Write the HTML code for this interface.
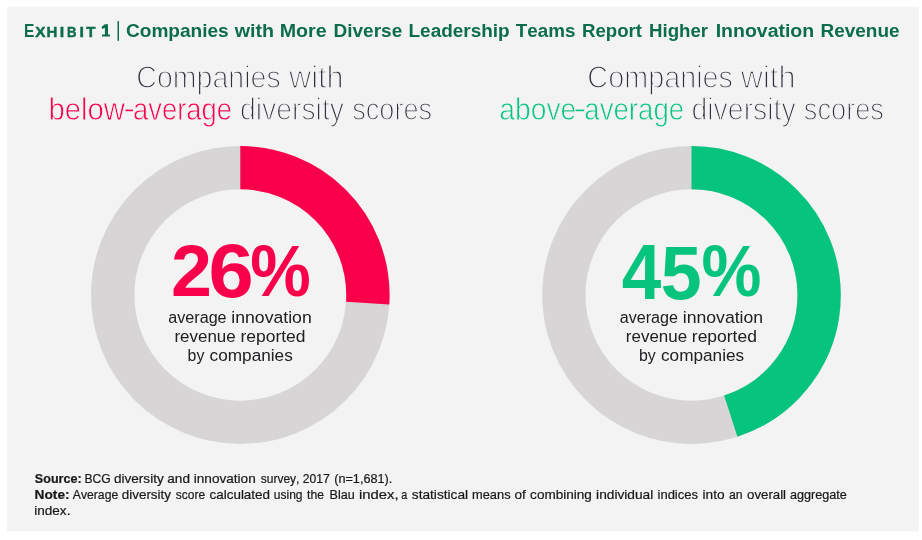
<!DOCTYPE html>
<html>
<head>
<meta charset="utf-8">
<title>Exhibit 1</title>
<style>
html,body{margin:0;padding:0;background:#ffffff;}
body{width:922px;height:540px;overflow:hidden;font-family:"Liberation Sans",sans-serif;}
svg{display:block;will-change:transform;}
text{font-family:"Liberation Sans",sans-serif;font-kerning:none;}
</style>
</head>
<body>
<svg width="922" height="540" viewBox="0 0 922 540">
<rect x="0" y="0" width="922" height="540" fill="#ffffff"/>
<rect x="7" y="6.8" width="911.7" height="524.7" fill="#f3f3f3"/>
<!-- title -->
<text transform="translate(23.96,36.50) scale(0.8615,1.0000)" font-size="18" font-weight="bold" fill="#0b6d4a">E</text>
<text transform="translate(35.36,36.50) scale(1.0844,1.0000)" font-size="14.2" font-weight="bold" fill="#0b6d4a" stroke="#0b6d4a" stroke-width="0.45">X</text>
<text transform="translate(46.40,36.50) scale(1.0541,1.0000)" font-size="14.2" font-weight="bold" fill="#0b6d4a" stroke="#0b6d4a" stroke-width="0.45">H</text>
<text transform="translate(59.83,36.50) scale(1.1245,1.0000)" font-size="14.2" font-weight="bold" fill="#0b6d4a" stroke="#0b6d4a" stroke-width="0.45">I</text>
<text transform="translate(67.02,36.50) scale(0.9238,1.0000)" font-size="14.2" font-weight="bold" fill="#0b6d4a" stroke="#0b6d4a" stroke-width="0.45">B</text>
<text transform="translate(79.53,36.50) scale(1.1245,1.0000)" font-size="14.2" font-weight="bold" fill="#0b6d4a" stroke="#0b6d4a" stroke-width="0.45">I</text>
<text transform="translate(86.23,36.50) scale(1.0524,1.0000)" font-size="14.2" font-weight="bold" fill="#0b6d4a" stroke="#0b6d4a" stroke-width="0.45">T</text>
<path d="M104.9,24.3 L108,24.3 L108,34.6 L110,34.6 L110,36.6 L102,36.6 L102,34.6 L104.9,34.6 L104.9,27.7 L102.4,29.1 L101.5,27.1 Z" fill="#0b6d4a"/>
<rect x="117.5" y="21.1" width="1.5" height="19.7" fill="#0b6d4a"/>
<text transform="translate(126.02,36.50) scale(1.0418,1.0000)" font-size="18.3" font-weight="bold" fill="#0b6d4a">Companies</text>
<text transform="translate(234.76,36.50) scale(1.0758,1.0000)" font-size="18.3" font-weight="bold" fill="#0b6d4a">with</text>
<text transform="translate(279.68,36.50) scale(1.0747,1.0000)" font-size="18.3" font-weight="bold" fill="#0b6d4a">More</text>
<text transform="translate(333.53,36.50) scale(1.0392,1.0000)" font-size="18.3" font-weight="bold" fill="#0b6d4a">Diverse</text>
<text transform="translate(408.53,36.50) scale(1.0371,1.0000)" font-size="18.3" font-weight="bold" fill="#0b6d4a">Leadership</text>
<text transform="translate(515.79,36.50) scale(1.0276,1.0000)" font-size="18.3" font-weight="bold" fill="#0b6d4a">Teams</text>
<text transform="translate(581.95,36.50) scale(1.0188,1.0000)" font-size="18.3" font-weight="bold" fill="#0b6d4a">Report</text>
<text transform="translate(649.05,36.50) scale(1.0203,1.0000)" font-size="18.3" font-weight="bold" fill="#0b6d4a">Higher</text>
<text transform="translate(715.70,36.50) scale(1.0649,1.0000)" font-size="18.3" font-weight="bold" fill="#0b6d4a">Innovation</text>
<text transform="translate(820.43,36.50) scale(1.0385,1.0000)" font-size="18.3" font-weight="bold" fill="#0b6d4a">Revenue</text>
<!-- headings -->
<text transform="translate(136.35,87.90) scale(0.8920,1.0000)" font-size="32" fill="#30303d" stroke="#f3f3f3" stroke-width="1.4">Companies</text>
<text transform="translate(289.04,87.90) scale(0.9585,1.0000)" font-size="32" fill="#30303d" stroke="#f3f3f3" stroke-width="1.4">with</text>
<text transform="translate(48.41,119.50) scale(0.9152,1.0000)" font-size="32" fill="#f8004a" stroke="#f3f3f3" stroke-width="0.8">below</text>
<text transform="translate(133.04,119.50) scale(0.8568,1.0000)" font-size="32" fill="#f8004a" stroke="#f3f3f3" stroke-width="0.8">average</text>
<rect x="125.5" y="109.6" width="7.4" height="1.6" fill="#f8004a"/>
<text transform="translate(239.91,119.80) scale(0.8866,1.0000)" font-size="32" fill="#30303d" stroke="#f3f3f3" stroke-width="1.4">diversity</text>
<text transform="translate(352.24,119.80) scale(0.8481,1.0000)" font-size="32" fill="#30303d" stroke="#f3f3f3" stroke-width="1.4">scores</text>
<text transform="translate(587.34,87.90) scale(0.9002,1.0000)" font-size="32" fill="#30303d" stroke="#f3f3f3" stroke-width="1.4">Companies</text>
<text transform="translate(740.85,87.90) scale(0.9604,1.0000)" font-size="32" fill="#30303d" stroke="#f3f3f3" stroke-width="1.4">with</text>
<text transform="translate(499.30,119.50) scale(0.8838,1.0000)" font-size="32" fill="#06c47e" stroke="#f3f3f3" stroke-width="0.8">above</text>
<text transform="translate(584.33,119.50) scale(0.8630,1.0000)" font-size="32" fill="#06c47e" stroke="#f3f3f3" stroke-width="0.8">average</text>
<rect x="575.6" y="109.6" width="8.6" height="1.6" fill="#06c47e"/>
<text transform="translate(691.51,119.80) scale(0.8883,1.0000)" font-size="32" fill="#30303d" stroke="#f3f3f3" stroke-width="1.4">diversity</text>
<text transform="translate(803.84,119.80) scale(0.8503,1.0000)" font-size="32" fill="#30303d" stroke="#f3f3f3" stroke-width="1.4">scores</text>
<!-- donuts -->
<g transform="translate(240.3,295) scale(1.0025,1)"><circle r="127.3" fill="none" stroke="#d7d5d6" stroke-width="43.2"/><circle r="127.3" fill="none" stroke="#f8004a" stroke-width="43.2" stroke-dasharray="207.96 2000" transform="rotate(-90)"/></g>
<g transform="translate(691.5,295) scale(1.0025,1)"><circle r="127.3" fill="none" stroke="#d7d5d6" stroke-width="43.2"/><circle r="127.3" fill="none" stroke="#06c47e" stroke-width="43.2" stroke-dasharray="359.93 2000" transform="rotate(-90)"/></g>
<!-- numbers -->
<text transform="translate(170.95,296.20) scale(1.0504,1.0414)" font-size="70" font-weight="bold" fill="#f8004a">2</text>
<text transform="translate(208.42,296.65) scale(1.1614,1.0936)" font-size="70" font-weight="bold" fill="#f8004a">6</text>
<text transform="translate(250.31,296.43) scale(0.9718,1.0334)" font-size="70" font-weight="bold" fill="#f8004a">%</text>
<text transform="translate(621.72,299.00) scale(1.0161,1.1151)" font-size="70" font-weight="bold" fill="#06c47e">4</text>
<text transform="translate(660.74,299.05) scale(1.0508,1.0913)" font-size="70" font-weight="bold" fill="#06c47e">5</text>
<text transform="translate(701.62,296.43) scale(0.9633,1.0334)" font-size="70" font-weight="bold" fill="#06c47e">%</text>
<!-- sub -->
<text transform="translate(168.31,322.60) scale(0.9326,1.0000)" font-size="17.3" fill="#202024">average</text>
<text transform="translate(231.32,322.60) scale(1.0197,1.0000)" font-size="17.3" fill="#202024">innovation</text>
<text transform="translate(174.47,341.60) scale(0.9802,1.0000)" font-size="17.3" fill="#202024">revenue</text>
<text transform="translate(240.44,341.60) scale(1.0101,1.0000)" font-size="17.3" fill="#202024">reported</text>
<text transform="translate(187.58,360.70) scale(0.9169,1.0000)" font-size="17.3" fill="#202024">by</text>
<text transform="translate(209.57,360.70) scale(0.9951,1.0000)" font-size="17.3" fill="#202024">companies</text>
<text transform="translate(619.71,322.60) scale(0.9326,1.0000)" font-size="17.3" fill="#202024">average</text>
<text transform="translate(682.72,322.60) scale(1.0197,1.0000)" font-size="17.3" fill="#202024">innovation</text>
<text transform="translate(625.87,341.60) scale(0.9802,1.0000)" font-size="17.3" fill="#202024">revenue</text>
<text transform="translate(691.84,341.60) scale(1.0101,1.0000)" font-size="17.3" fill="#202024">reported</text>
<text transform="translate(638.98,360.70) scale(0.9169,1.0000)" font-size="17.3" fill="#202024">by</text>
<text transform="translate(660.97,360.70) scale(0.9951,1.0000)" font-size="17.3" fill="#202024">companies</text>
<!-- footer -->
<text transform="translate(34.84,483.40) scale(1.0131,1.0000)" font-size="12.4" font-weight="bold" fill="#181818" stroke="#181818" stroke-width="0.2">Source:</text>
<text transform="translate(84.50,483.40) scale(0.9789,1.0000)" font-size="12.4" fill="#181818" stroke="#181818" stroke-width="0.2">BCG</text>
<text transform="translate(113.93,483.40) scale(1.0950,1.0000)" font-size="12.4" fill="#181818" stroke="#181818" stroke-width="0.2">diversity</text>
<text transform="translate(167.32,483.40) scale(1.0949,1.0000)" font-size="12.4" fill="#181818" stroke="#181818" stroke-width="0.2">and</text>
<text transform="translate(193.79,483.40) scale(1.0966,1.0000)" font-size="12.4" fill="#181818" stroke="#181818" stroke-width="0.2">innovation</text>
<text transform="translate(260.77,483.40) scale(0.9686,1.0000)" font-size="12.4" fill="#181818" stroke="#181818" stroke-width="0.2">survey,</text>
<text transform="translate(302.69,483.40) scale(0.9796,1.0000)" font-size="12.4" fill="#181818" stroke="#181818" stroke-width="0.2">2017</text>
<text transform="translate(334.21,483.40) scale(1.0224,1.0000)" font-size="12.4" fill="#181818" stroke="#181818" stroke-width="0.2">(n=1,681).</text>
<text transform="translate(34.58,499.30) scale(1.1058,1.0000)" font-size="12.4" font-weight="bold" fill="#181818" stroke="#181818" stroke-width="0.2">Note:</text>
<text transform="translate(72.78,499.30) scale(0.9844,1.0000)" font-size="12.4" fill="#181818" stroke="#181818" stroke-width="0.2">Average</text>
<text transform="translate(121.74,499.30) scale(1.0839,1.0000)" font-size="12.4" fill="#181818" stroke="#181818" stroke-width="0.2">diversity</text>
<text transform="translate(175.87,499.30) scale(0.9685,1.0000)" font-size="12.4" fill="#181818" stroke="#181818" stroke-width="0.2">score</text>
<text transform="translate(209.53,499.30) scale(1.0842,1.0000)" font-size="12.4" fill="#181818" stroke="#181818" stroke-width="0.2">calculated</text>
<text transform="translate(273.82,499.30) scale(0.9701,1.0000)" font-size="12.4" fill="#181818" stroke="#181818" stroke-width="0.2">using</text>
<text transform="translate(307.02,499.30) scale(0.9819,1.0000)" font-size="12.4" fill="#181818" stroke="#181818" stroke-width="0.2">the</text>
<text transform="translate(329.57,499.30) scale(1.0097,1.0000)" font-size="12.4" fill="#181818" stroke="#181818" stroke-width="0.2">Blau</text>
<text transform="translate(359.01,499.30) scale(1.1976,1.0000)" font-size="12.4" fill="#181818" stroke="#181818" stroke-width="0.2">index,</text>
<text transform="translate(401.35,499.30) scale(0.8635,1.0000)" font-size="12.4" fill="#181818" stroke="#181818" stroke-width="0.2">a</text>
<text transform="translate(411.82,499.30) scale(1.1040,1.0000)" font-size="12.4" fill="#181818" stroke="#181818" stroke-width="0.2">statistical</text>
<text transform="translate(472.05,499.30) scale(1.0349,1.0000)" font-size="12.4" fill="#181818" stroke="#181818" stroke-width="0.2">means</text>
<text transform="translate(514.43,499.30) scale(1.0977,1.0000)" font-size="12.4" fill="#181818" stroke="#181818" stroke-width="0.2">of</text>
<text transform="translate(530.12,499.30) scale(1.0943,1.0000)" font-size="12.4" fill="#181818" stroke="#181818" stroke-width="0.2">combining</text>
<text transform="translate(596.08,499.30) scale(1.1071,1.0000)" font-size="12.4" fill="#181818" stroke="#181818" stroke-width="0.2">individual</text>
<text transform="translate(657.53,499.30) scale(1.0477,1.0000)" font-size="12.4" fill="#181818" stroke="#181818" stroke-width="0.2">indices</text>
<text transform="translate(702.48,499.30) scale(1.1050,1.0000)" font-size="12.4" fill="#181818" stroke="#181818" stroke-width="0.2">into</text>
<text transform="translate(728.88,499.30) scale(0.9871,1.0000)" font-size="12.4" fill="#181818" stroke="#181818" stroke-width="0.2">an</text>
<text transform="translate(747.04,499.30) scale(1.0689,1.0000)" font-size="12.4" fill="#181818" stroke="#181818" stroke-width="0.2">overall</text>
<text transform="translate(790.06,499.30) scale(1.0188,1.0000)" font-size="12.4" fill="#181818" stroke="#181818" stroke-width="0.2">aggregate</text>
<text transform="translate(34.29,515.40) scale(1.0923,1.0000)" font-size="12.4" fill="#181818" stroke="#181818" stroke-width="0.2">index.</text>
</svg>
</body>
</html>
